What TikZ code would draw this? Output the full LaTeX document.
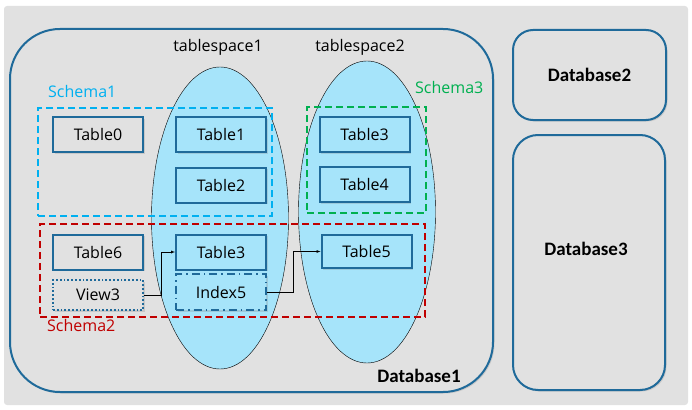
\documentclass[tikz,border=0pt]{standalone}
\usepackage{fontspec}
\setmainfont{Open Sans}
\newfontfamily\dbfont{Carlito}
\usepackage{xcolor}
\usetikzlibrary{shapes.geometric, arrows, positioning, shadows}

\definecolor{dbblue}{HTML}{1F6A9A}
\definecolor{bggray}{HTML}{E1E1E1}
\definecolor{tspblue}{HTML}{A6E4FA}
\definecolor{schemacyan}{HTML}{00B0F0}
\definecolor{schemared}{HTML}{C00000}
\definecolor{schemagreen}{HTML}{00B050}

\begin{document}
\begin{tikzpicture}[x=1pt, y=-1pt, >=latex,
    database/.style={rectangle, draw=dbblue, line width=2pt, fill=bggray, drop shadow={opacity=0.25, shadow xshift=1.5pt, shadow yshift=-1.5pt}, font=\dbfont\fontsize{19}{21}\selectfont\bfseries},
    tablespace/.style={ellipse, draw=black, thin, fill=tspblue, minimum width=137pt, minimum height=302pt, inner sep=0pt},
    schema/.style={rectangle, line width=1.8pt, dash pattern=on 7pt off 4pt, minimum width=#1, inner sep=0pt},
    table/.style={rectangle, draw=dbblue, line width=2pt, fill=#1, drop shadow={opacity=0.25, shadow xshift=1.5pt, shadow yshift=-1.5pt}, minimum width=90pt, minimum height=35pt, inner sep=0pt, font=\fontsize{16}{19}\selectfont},
    caption/.style={font=\fontsize{16}{19}\selectfont, inner sep=0pt}
]
\useasboundingbox (0,0) rectangle (692,409);
\fill[bggray, rounded corners=3pt] (4,6) rectangle (688,405);

% Databases
\node (db1) [database, rounded corners=50pt, minimum width=483pt, minimum height=363pt] at (251.5,210.5) {};
\node (db2) [database, rounded corners=20pt, minimum width=153pt, minimum height=90pt] at (589.5,75) {Database2};
\node (db3) [database, rounded corners=25pt, minimum width=152pt, minimum height=255pt] at (589,262.5) {};
\node (db1label) [font=\dbfont\fontsize{19}{21}\selectfont\bfseries] at (419,376) {Database1};
\node (db3label) [font=\dbfont\fontsize{19}{21}\selectfont\bfseries] at (586,249) {Database3};

% Tablespaces
\node (tsp1) [tablespace] at (220,218) {};
\node (tsp2) [tablespace] at (367,212) {};
\node (tsp1label) [caption] at (218,47) {tablespace1};
\node (tsp2label) [caption] at (360,47) {tablespace2};

% Schemas
\node (schema1) [schema=234pt, draw=schemacyan, minimum height=108pt] at (155,162) {};
\node (schema2) [schema=385pt, draw=schemared, minimum height=93pt] at (232.5,270.5) {};
\node (schema3) [schema=119pt, draw=schemagreen, minimum height=106pt] at (366.5,160) {};
\node (schema1label) [caption, anchor=west, text=schemacyan] at (48,91) {Schema1};
\node (schema2label) [caption, anchor=west, text=schemared] at (47,325) {Schema2};
\node (schema3label) [caption, anchor=west, text=schemagreen] at (415,88) {Schema3};

% Tables
\node (t0) [table=bggray] at (98,134.5) {Table0};
\node (t1) [table=tspblue] at (221,134.5) {Table1};
\node (t2) [table=tspblue] at (221,185) {Table2};
\node (t6) [table=bggray] at (98,252) {Table6};
\node (t3a) [table=tspblue] at (221,252) {Table3};
\node (view3) [table=bggray, dash pattern=on 1.8pt off 2pt, minimum height=30pt] at (98,295) {View3};
\node (idx5) [table=tspblue, dash pattern=on 8pt off 4pt on 1.5pt off 4pt, minimum height=36pt] at (221,292) {Index5};
\node (t3b) [table=tspblue] at (364.5,134.5) {Table3};
\node (t4) [table=tspblue] at (364.5,184.5) {Table4};
\node (t5) [table=tspblue, minimum height=33pt] at (366.5,251.5) {Table5};

% Links
\draw [->, thin] (view3.east) -- ++(17,0) |- (t3a.west);
\draw [->, thin] (idx5.east) -- ++(26,0) |- (t5.west);

\end{tikzpicture}
\end{document}
